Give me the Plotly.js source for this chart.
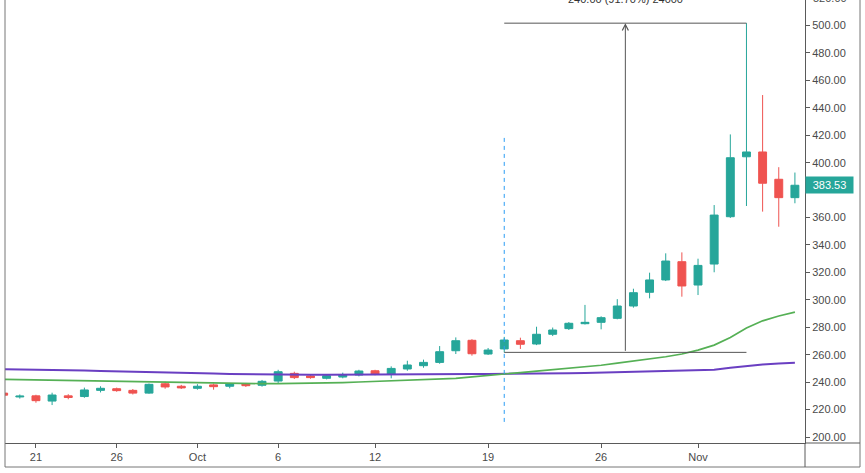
<!DOCTYPE html>
<html><head><meta charset="utf-8">
<script src="https://cdn.plot.ly/plotly-3.0.1.min.js"></script>
<style>html,body{margin:0;padding:0;background:#fff}#chart{width:865px;height:473px}</style>
</head><body><div id="chart"></div>
<script>
const dates = ['2020-09-19','2020-09-20','2020-09-21','2020-09-22','2020-09-23','2020-09-24','2020-09-25','2020-09-26','2020-09-27','2020-09-28',
 '2020-09-29','2020-09-30','2020-10-01','2020-10-02','2020-10-03','2020-10-04','2020-10-05','2020-10-06','2020-10-07','2020-10-08',
 '2020-10-09','2020-10-10','2020-10-11','2020-10-12','2020-10-13','2020-10-14','2020-10-15','2020-10-16','2020-10-17','2020-10-18',
 '2020-10-19','2020-10-20','2020-10-21','2020-10-22','2020-10-23','2020-10-24','2020-10-25','2020-10-26','2020-10-27','2020-10-28',
 '2020-10-29','2020-10-30','2020-10-31','2020-11-01','2020-11-02','2020-11-03','2020-11-04','2020-11-05','2020-11-06','2020-11-07'];
const openP  = [232.0,229.2,230.0,226.2,230.0,229.5,234.0,235.2,234.0,232.0,
 238.8,237.0,235.5,238.0,237.0,238.6,237.7,240.8,246.4,244.5,
 242.8,243.7,245.2,248.3,245.9,249.6,252.0,254.4,262.9,270.5,
 260.5,264.2,270.2,267.8,274.9,279.0,282.6,283.6,286.5,295.5,
 305.5,314.5,327.8,310.8,326.1,360.6,404.3,407.8,387.9,374.5];
const highP  = [233.0,231.0,230.8,232.3,231.2,236.0,237.0,236.0,235.0,239.0,
 240.3,238.0,238.5,239.0,239.4,239.4,241.6,249.0,247.6,245.5,
 245.5,246.9,249.0,249.0,251.5,255.6,256.4,266.3,272.6,271.3,
 264.9,273.0,272.4,280.4,279.8,283.8,296.3,288.0,300.5,308.1,
 319.8,333.9,334.6,330.0,369.1,420.6,501.7,449.3,396.7,392.8];
const lowP   = [229.5,228.0,225.0,223.3,227.5,228.6,232.5,233.0,231.0,231.5,
 235.2,235.0,234.5,234.5,235.5,236.5,236.7,239.4,242.3,242.5,
 242.0,242.8,244.2,245.0,242.8,248.3,250.5,253.4,260.5,259.3,
 259.8,261.7,264.2,267.0,273.6,278.0,282.0,278.5,285.8,294.3,
 301.1,313.7,302.3,303.5,320.1,359.7,368.4,364.3,353.3,370.4];
const closeP = [230.5,229.8,226.5,230.6,228.8,234.3,235.5,233.8,232.0,238.4,
 236.5,235.8,237.0,236.7,238.6,237.4,240.6,247.6,243.3,243.3,
 244.7,245.4,248.1,245.7,250.0,252.5,254.4,262.2,270.2,260.7,
 263.4,270.7,267.6,274.9,278.0,282.9,283.6,287.0,295.5,305.2,
 314.5,328.3,310.1,325.1,361.8,403.6,407.8,385.0,374.5,383.53];
const maFast = [242.1,241.9,241.6,241.4,241.1,240.9,240.7,240.4,240.2,239.9,
 239.7,239.4,239.2,239.1,239.0,238.9,238.9,238.9,239.0,239.2,
 239.4,239.7,240.1,240.6,241.0,241.4,241.7,242.1,242.8,243.8,
 245.0,246.0,247.0,248.0,249.0,250.0,251.0,252.3,253.8,255.3,
 256.8,258.5,260.5,263.3,267.0,272.5,279.5,284.7,288.2,291.0];
const maSlow = [249.4,249.3,249.2,249.0,248.8,248.5,248.2,248.0,247.6,247.2,
 247.0,246.8,246.5,246.3,246.0,245.8,245.6,245.5,245.4,245.4,
 245.4,245.4,245.5,245.5,245.6,245.7,245.7,245.8,245.9,245.9,
 246.0,246.0,246.1,246.2,246.3,246.4,246.6,246.9,247.1,247.3,
 247.5,247.7,248.0,248.5,249.0,250.5,251.9,252.9,253.5,254.1];
const yTicks = [200,220,240,260,280,300,320,340,360,380,400,420,440,460,480,500];
const xTickDates = ['2020-09-21','2020-09-26','2020-10-01','2020-10-06','2020-10-12','2020-10-19','2020-10-26','2020-11-01'];
const xTickText = ['21','26','Oct','6','12','19','26','Nov'];
const lastPrice = 383.53;
const measureStart = '2020-10-20', measureEnd = '2020-11-04', measureMid = '2020-10-27 12:00';
const measureLow = 261.7, measureHigh = 501.7;
const measureText = '240.00 (91.70%) 24000';
const markerDate = '2020-10-20', markerLow = 211, markerHigh = 421;

const UP = '#26a69a', DOWN = '#ef5350', AX = '#5a5a5a', FRAME = '#777';
const FONT = {family: 'Liberation Sans, Arial, sans-serif', size: 11, color: '#4a4a4a'};

const traces = [
  {type: 'scatter', mode: 'lines', x: dates, y: maSlow, line: {color: '#6a3fc2', width: 2}, hoverinfo: 'skip'},
  {type: 'scatter', mode: 'lines', x: dates, y: maFast, line: {color: '#55b055', width: 1.7}, hoverinfo: 'skip'},
  {type: 'candlestick', x: dates, open: openP, high: highP, low: lowP, close: closeP,
   width: 0.6 * 86400000, whiskerwidth: 0,
   increasing: {line: {color: UP, width: 1}, fillcolor: UP},
   decreasing: {line: {color: DOWN, width: 1}, fillcolor: DOWN}}
];

const py = v => (443 - v) / 443, px = v => (v - 5) / 800;
const line = (x0, y0, x1, y1, color) => ({type: 'line', xref: 'paper', yref: 'paper', x0: px(x0), y0: py(y0), x1: px(x1), y1: py(y1), line: {color: color, width: 1}, layer: 'above'});

// the 380.00 label sits behind the last-price tag in the reference
const yTickText = yTicks.map(v => Math.abs(v - lastPrice) < 10 ? '' : v.toFixed(2));

const layout = {
  width: 865, height: 473,
  margin: {l: 5, r: 60, t: 0, b: 30, pad: 0},
  paper_bgcolor: '#fff', plot_bgcolor: '#fff',
  showlegend: false, font: FONT,
  xaxis: {type: 'date', range: ['2020-09-19 02:00', '2020-11-07 15:00'], rangeslider: {visible: false},
    tickvals: xTickDates, ticktext: xTickText, ticks: 'outside', ticklen: 4, tickcolor: AX,
    showline: true, linecolor: AX, linewidth: 1, showgrid: false, zeroline: false, tickfont: FONT, fixedrange: true},
  yaxis: {side: 'right', range: [195.63, 518.59], tickvals: yTicks, ticktext: yTickText,
    ticks: 'outside', ticklen: 4, tickcolor: AX, showline: true, linecolor: AX, linewidth: 1,
    showgrid: false, zeroline: false, tickfont: FONT, fixedrange: true},
  shapes: [
    {type: 'line', xref: 'x', yref: 'y', x0: markerDate, x1: markerDate, y0: markerLow, y1: markerHigh, line: {color: '#2a9df4', width: 1, dash: '4px,4px'}},
    {type: 'line', xref: 'x', yref: 'y', x0: measureStart, x1: measureEnd, y0: measureLow, y1: measureLow, line: {color: '#555', width: 1}},
    {type: 'line', xref: 'x', yref: 'y', x0: measureStart, x1: measureEnd, y0: measureHigh, y1: measureHigh, line: {color: '#555', width: 1}},
    line(5, 0, 5, 467, FRAME),
    line(5, 467, 860, 467, FRAME),
    line(860, 0, 860, 467, FRAME),
    line(805, 443, 805, 467, AX),
    line(805, 443, 860, 443, AX)
  ],
  annotations: [
    {xref: 'x', yref: 'y', x: measureMid, y: measureHigh, axref: 'x', ayref: 'y', ax: measureMid, ay: measureLow,
     showarrow: true, arrowhead: 5, arrowsize: 1.2, arrowwidth: 1, arrowcolor: '#555', text: ''},
    {xref: 'x', yref: 'paper', x: measureMid, y: 1 + 1 / 443, yanchor: 'middle', xanchor: 'center', showarrow: false,
     text: measureText, font: {family: FONT.family, size: 11, color: '#333'}},
    {xref: 'paper', yref: 'paper', x: px(811), y: 1 + 2 / 443, xanchor: 'left', yanchor: 'middle', showarrow: false,
     text: (520).toFixed(2), font: FONT},
    {xref: 'paper', yref: 'y', x: 1, y: lastPrice, xanchor: 'left', yanchor: 'middle', showarrow: false,
     text: lastPrice.toFixed(2), bgcolor: UP, borderpad: 1, width: 45, height: 14, align: 'center',
     font: {family: FONT.family, size: 11, color: '#fff'}}
  ]
};

Plotly.newPlot('chart', traces, layout, {displayModeBar: false, staticPlot: true});
</script></body></html>
